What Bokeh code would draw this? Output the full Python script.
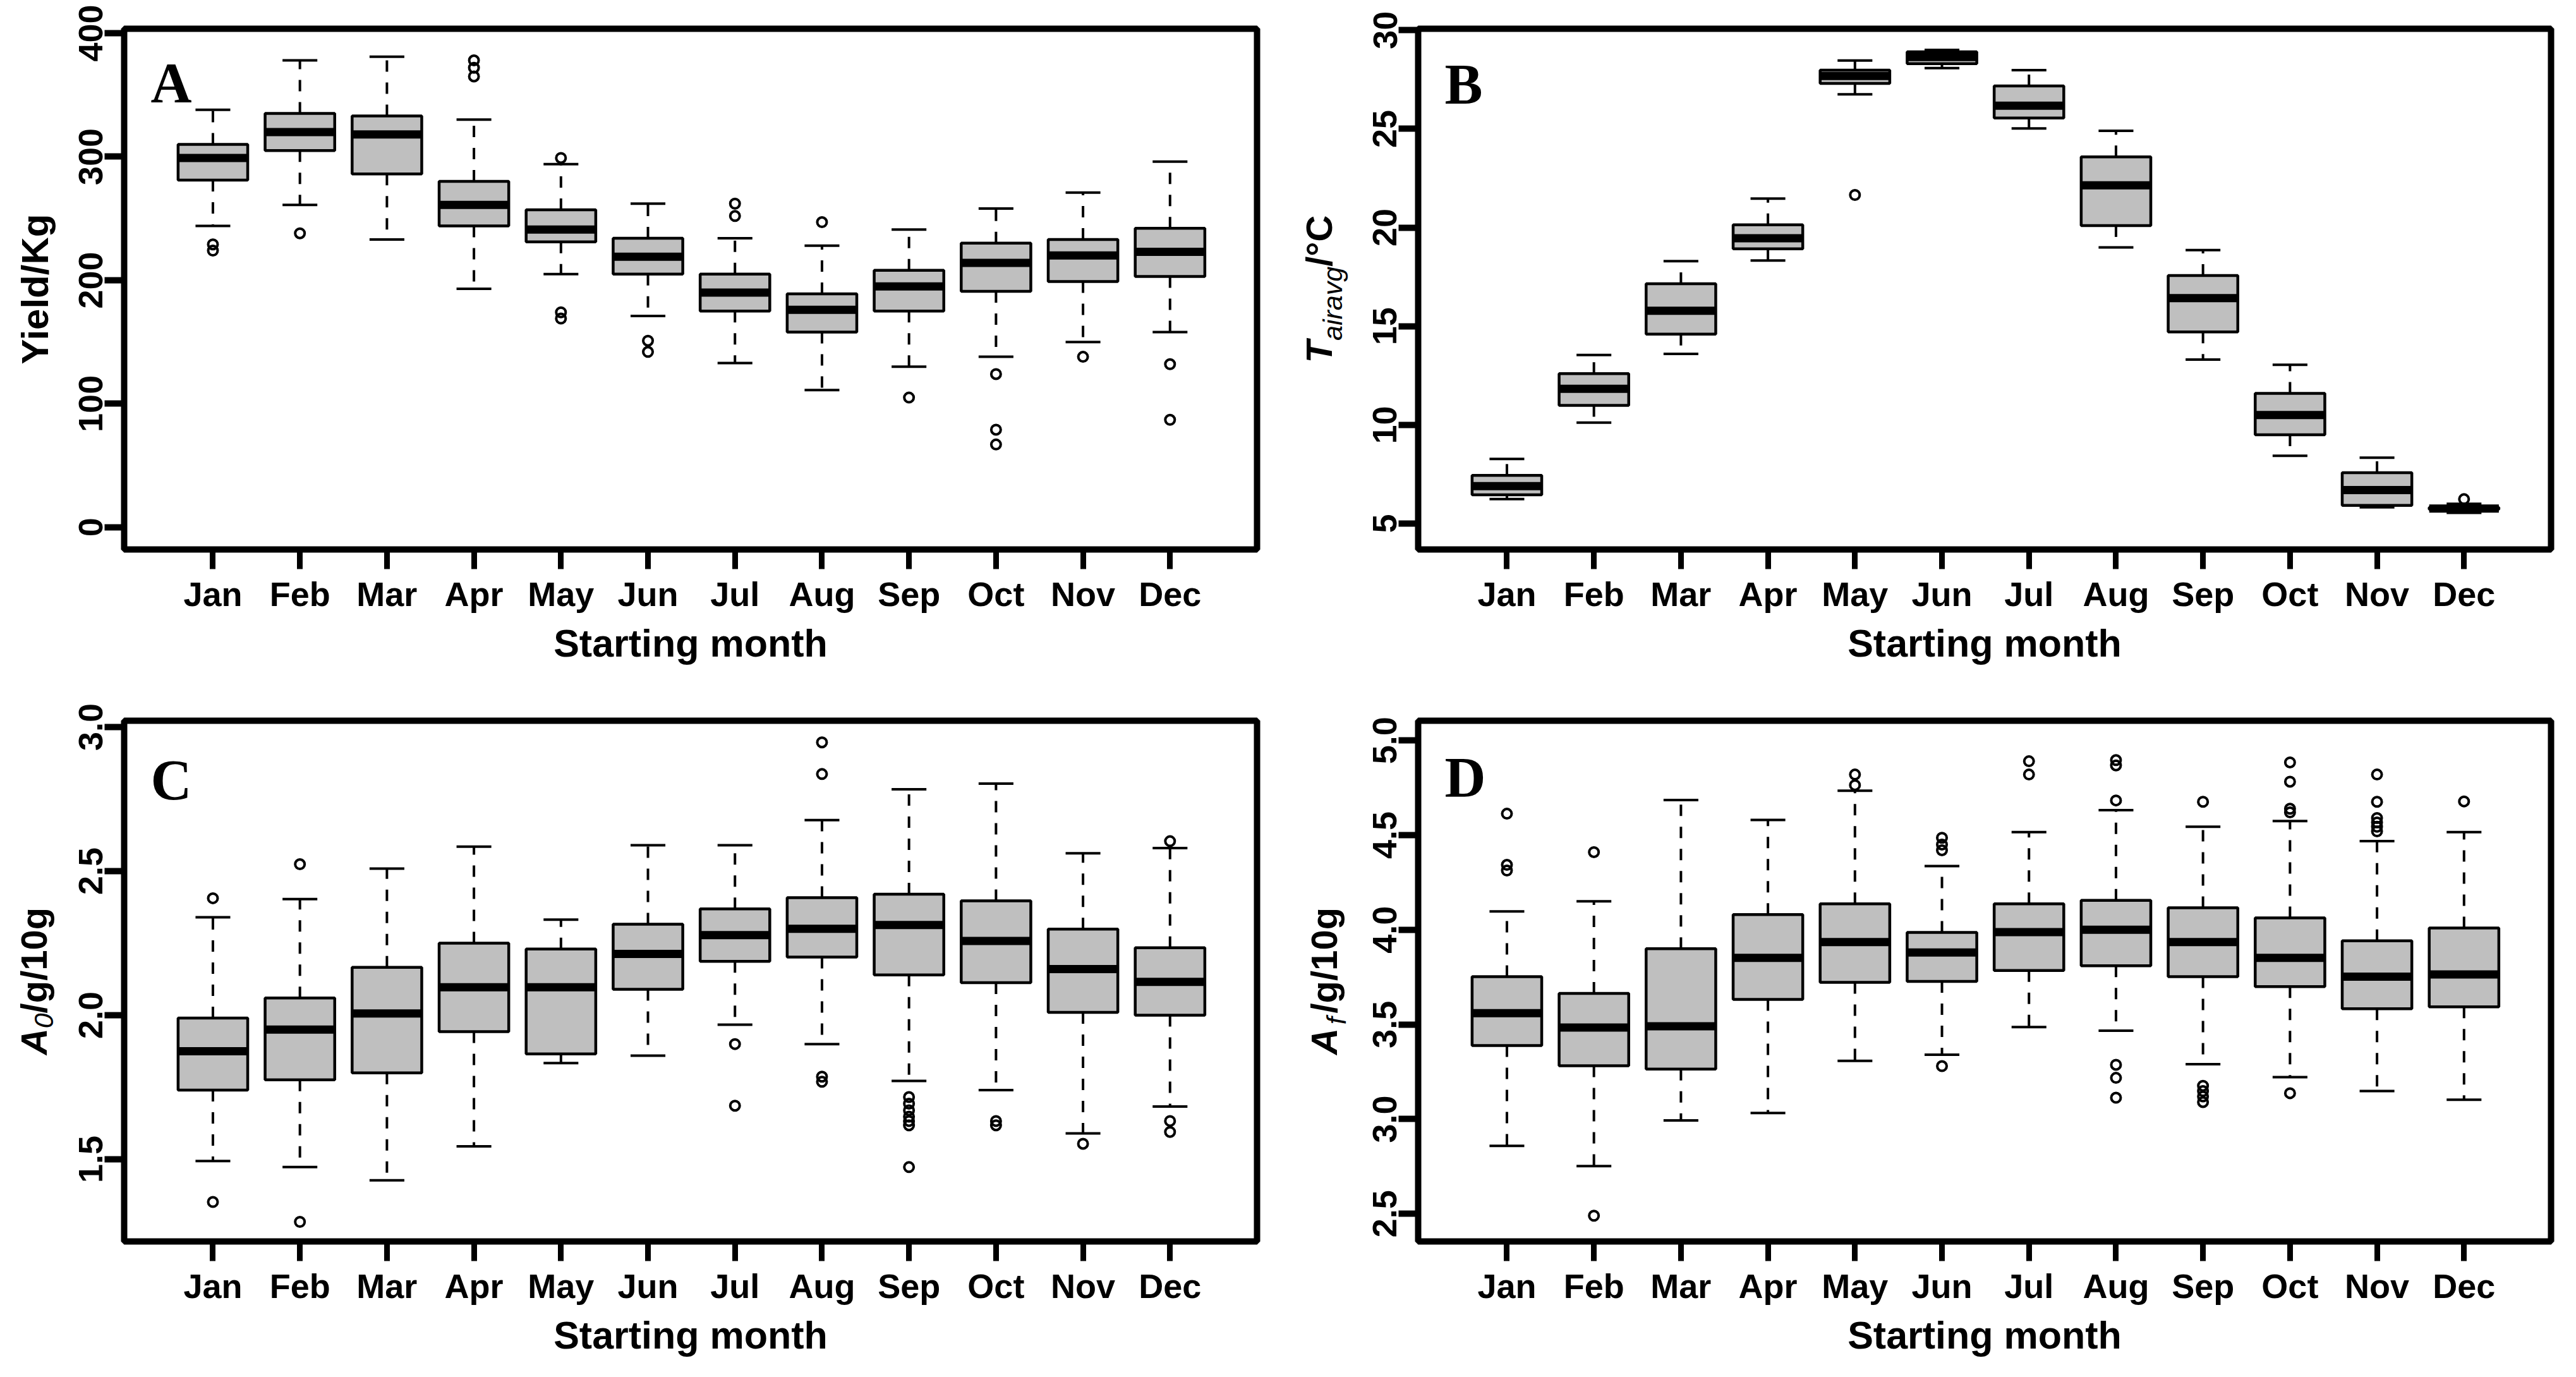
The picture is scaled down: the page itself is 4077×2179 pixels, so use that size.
import numpy as np
from math import pi
from bokeh.plotting import figure
from bokeh.models import Range1d, FixedTicker, Label, NumeralTickFormatter
from bokeh.layouts import column, row
from bokeh.embed import file_html
from bokeh.resources import INLINE

months = ["Jan", "Feb", "Mar", "Apr", "May", "Jun", "Jul", "Aug", "Sep", "Oct", "Nov", "Dec"]

# ---- Panel A: Yield/Kg ----
yield_lw  = [244, 261, 233, 193, 205, 171, 133, 111, 130, 138, 150, 158]
yield_q1  = [281, 305, 286, 244, 231, 205, 175, 158, 175, 191, 199, 203]
yield_med = [299, 320, 318, 261, 241, 219, 190, 176, 195, 214, 220, 223]
yield_q3  = [310, 335, 333, 280, 257, 234, 205, 189, 208, 230, 233, 242]
yield_uw  = [338, 378, 381, 330, 294, 262, 234, 228, 241, 258, 271, 296]
yield_out_month = ["Jan", "Jan", "Feb", "Apr", "Apr", "Apr", "May", "May", "May", "Jun", "Jun",
                   "Jul", "Jul", "Aug", "Sep", "Oct", "Oct", "Oct", "Nov", "Dec", "Dec"]
yield_out_val = [229, 224, 238, 378, 372, 365, 299, 174, 169, 151, 142,
                 262, 252, 247, 105, 124, 79, 67, 138, 132, 87]

# ---- Panel B: T_airavg / degC ----
temp_lw  = [6.24, 10.12, 13.60, 18.33, 26.75, 28.08, 25.02, 18.99, 13.31, 8.44, 5.83, 5.55]
temp_q1  = [6.46, 10.99, 14.60, 18.92, 27.30, 28.30, 25.55, 20.10, 14.71, 9.50, 5.92, 5.72]
temp_med = [6.90, 11.83, 15.78, 19.46, 27.68, 28.64, 26.17, 22.14, 16.42, 10.50, 6.70, 5.76]
temp_q3  = [7.44, 12.60, 17.15, 20.14, 27.97, 28.90, 27.17, 23.58, 17.57, 11.60, 7.58, 5.82]
temp_uw  = [8.28, 13.54, 18.30, 21.47, 28.46, 29.00, 27.97, 24.90, 18.86, 13.05, 8.34, 6.00]
temp_out_month = ["May", "Dec"]
temp_out_val = [21.65, 6.24]

# ---- Panel C: A0 / g/10g ----
a0_lw  = [1.494, 1.473, 1.427, 1.545, 1.834, 1.860, 1.967, 1.900, 1.772, 1.740, 1.590, 1.683]
a0_q1  = [1.740, 1.776, 1.800, 1.943, 1.866, 2.090, 2.187, 2.202, 2.140, 2.113, 2.010, 2.000]
a0_med = [1.875, 1.950, 2.006, 2.097, 2.097, 2.213, 2.278, 2.300, 2.313, 2.258, 2.160, 2.116]
a0_q3  = [1.990, 2.060, 2.166, 2.250, 2.230, 2.316, 2.369, 2.408, 2.420, 2.397, 2.299, 2.234]
a0_uw  = [2.340, 2.403, 2.509, 2.585, 2.332, 2.590, 2.590, 2.677, 2.784, 2.804, 2.562, 2.580]
a0_out_month = ["Jan", "Jan", "Feb", "Feb", "Jul", "Jul", "Aug", "Aug", "Aug", "Aug",
                "Sep", "Sep", "Sep", "Sep", "Sep", "Sep", "Sep", "Oct", "Oct", "Nov",
                "Dec", "Dec", "Dec"]
a0_out_val = [2.406, 1.352, 2.524, 1.283, 1.900, 1.686, 2.947, 2.837, 1.787, 1.769,
              1.716, 1.693, 1.670, 1.648, 1.633, 1.618, 1.473, 1.633, 1.618, 1.554,
              2.604, 1.633, 1.595]

# ---- Panel D: Af / g/10g ----
af_lw  = [2.859, 2.752, 2.993, 3.032, 3.308, 3.340, 3.486, 3.467, 3.290, 3.222, 3.148, 3.102]
af_q1  = [3.389, 3.282, 3.264, 3.632, 3.722, 3.727, 3.785, 3.810, 3.752, 3.700, 3.583, 3.593]
af_med = [3.560, 3.484, 3.490, 3.852, 3.935, 3.880, 3.988, 4.000, 3.935, 3.852, 3.752, 3.764]
af_q3  = [3.752, 3.664, 3.900, 4.080, 4.137, 3.986, 4.137, 4.155, 4.116, 4.063, 3.942, 4.009]
af_uw  = [4.097, 4.150, 4.685, 4.580, 4.734, 4.336, 4.516, 4.632, 4.544, 4.574, 4.468, 4.516]
af_out_month = ["Jan", "Jan", "Jan", "Feb", "Feb", "May", "May", "Jun", "Jun", "Jun", "Jun",
                "Jul", "Jul", "Aug", "Aug", "Aug", "Aug", "Aug", "Aug",
                "Sep", "Sep", "Sep", "Sep", "Sep", "Oct", "Oct", "Oct", "Oct", "Oct",
                "Nov", "Nov", "Nov", "Nov", "Nov", "Nov", "Dec"]
af_out_val = [4.613, 4.343, 4.313, 4.410, 2.490, 4.820, 4.764, 4.486, 4.450, 4.420, 3.280,
              4.890, 4.820, 4.896, 4.868, 4.683, 3.287, 3.218, 3.113,
              4.676, 3.176, 3.148, 3.120, 3.090, 4.884, 4.782, 4.639, 4.620, 3.137,
              4.820, 4.676, 4.590, 4.567, 4.544, 4.520, 4.678]

SANS = "Liberation Sans"
SERIF = "Liberation Serif"
FRAME_W = 1793
FRAME_H = 824
X_START, X_END = -0.02, 13.0
BOX_W = 0.8
CAP_W = 0.4
GREY = "#bfbfbf"
FIG_H = 1080


def make_panel(stats, out_month, out_val, yr, yticks, fmt, letter, letter_dy,
               W, H, bl, br, bt, bb):
    lw, q1, med, q3, uw = [np.array(s, dtype=float) for s in stats]
    x = np.arange(1, len(months) + 1, dtype=float)
    pos = {m: i + 1 for i, m in enumerate(months)}
    ox = [pos[m] for m in out_month]

    p = figure(width=W, height=H, x_range=Range1d(X_START, X_END), y_range=Range1d(*yr),
               output_backend="svg", toolbar_location=None, tools="",
               min_border_left=bl, min_border_right=br, min_border_top=bt, min_border_bottom=bb)
    p.background_fill_color = "white"
    p.border_fill_color = "white"
    p.grid.visible = False
    p.outline_line_color = "black"
    p.outline_line_width = 10

    p.segment(x0=x, y0=q3, x1=x, y1=uw, line_color="black", line_width=4, line_dash="18 17")
    p.segment(x0=x, y0=q1, x1=x, y1=lw, line_color="black", line_width=4, line_dash="18 17")
    p.segment(x0=x - CAP_W / 2, y0=uw, x1=x + CAP_W / 2, y1=uw, line_color="black", line_width=4)
    p.segment(x0=x - CAP_W / 2, y0=lw, x1=x + CAP_W / 2, y1=lw, line_color="black", line_width=4)
    p.vbar(x=x, width=BOX_W, bottom=q1, top=q3, fill_color=GREY, line_color="black", line_width=4.5)
    p.segment(x0=x - BOX_W / 2, y0=med, x1=x + BOX_W / 2, y1=med, line_color="black",
              line_width=13, line_cap="butt")
    p.scatter(x=ox, y=out_val, marker="circle", size=15, fill_color=None,
              line_color="black", line_width=4)

    xa = p.xaxis[0]
    xa.ticker = FixedTicker(ticks=list(x))
    xa.major_label_overrides = {int(v): m for v, m in zip(x, months)}
    ya = p.yaxis[0]
    ya.ticker = FixedTicker(ticks=yticks)
    if fmt:
        ya.formatter = NumeralTickFormatter(format=fmt)
    for ax in (xa, ya):
        ax.axis_line_color = None
        ax.minor_tick_line_color = None
        ax.major_tick_in = 0
        ax.major_tick_out = 31
        ax.major_tick_line_color = "black"
        ax.major_tick_line_cap = "butt"
        ax.major_label_text_font = SANS
        ax.major_label_text_font_style = "bold"
        ax.major_label_text_font_size = "54px"
        ax.major_label_text_color = "black"
    xa.major_tick_line_width = 9
    ya.major_tick_line_width = 10
    xa.major_label_standoff = 9
    ya.major_label_standoff = 3
    ya.major_label_orientation = "vertical"
    xa.axis_label = "Starting month"
    xa.axis_label_text_font = SANS
    xa.axis_label_text_font_style = "bold"
    xa.axis_label_text_font_size = "61px"
    xa.axis_label_text_color = "black"
    xa.axis_label_standoff = 11

    ux = (X_END - X_START) / FRAME_W
    uy = (yr[1] - yr[0]) / FRAME_H
    p.add_layout(Label(x=X_START + 42 * ux, y=yr[1] - letter_dy * uy, text=letter,
                       text_font=SERIF, text_font_style="bold", text_font_size="90px",
                       text_align="left", text_baseline="alphabetic", text_color="black"))
    return p


def make_title(parts, W, baseline_x, bt, bb):
    """Narrow strip (frame aligned with the panel frame) holding a rotated y-axis title
    built from styled pieces; data units are pixels of the strip frame."""
    t = figure(width=W, height=FIG_H, x_range=Range1d(0, W), y_range=Range1d(0, FRAME_H),
               output_backend="svg", toolbar_location=None, tools="",
               min_border_left=0, min_border_right=0, min_border_top=bt, min_border_bottom=bb,
               x_axis_location=None, y_axis_location=None)
    t.grid.visible = False
    t.outline_line_color = None
    t.background_fill_color = "white"
    t.border_fill_color = "white"
    total = sum(size * em for (_, size, _, em, _) in parts)
    ycur = FRAME_H / 2 - total / 2
    for txt, size, style, em, shift in parts:
        w = size * em
        t.add_layout(Label(x=baseline_x + shift - 0.33 * size, y=ycur + w / 2, text=txt,
                           angle=pi / 2, text_font=SANS, text_font_style=style,
                           text_font_size=f"{size}px", text_align="center",
                           text_baseline="middle", text_color="black"))
        ycur += w
    return t


TW_L, TW_R = 96, 100
pA = make_panel([yield_lw, yield_q1, yield_med, yield_q3, yield_uw], yield_out_month, yield_out_val,
                (-18.0, 403.6), [0, 100, 200, 300, 400], None, "A", 86,
                1944, FIG_H, 100, 51, 45, 211)
pB = make_panel([temp_lw, temp_q1, temp_med, temp_q3, temp_uw], temp_out_month, temp_out_val,
                (3.69, 30.07), [5, 10, 15, 20, 25, 30], None, "B", 88,
                1921, FIG_H, 104, 24, 45, 211)
pC = make_panel([a0_lw, a0_q1, a0_med, a0_q3, a0_uw], a0_out_month, a0_out_val,
                (1.215, 3.022), [1.5, 2.0, 2.5, 3.0], "0.0", "C", 94,
                1944, FIG_H, 100, 51, 60, 196)
pD = make_panel([af_lw, af_q1, af_med, af_q3, af_uw], af_out_month, af_out_val,
                (2.354, 5.104), [2.5, 3.0, 3.5, 4.0, 4.5, 5.0], "0.0", "D", 90,
                1921, FIG_H, 104, 24, 60, 196)

tA = make_title([("Yield/Kg", 60, "bold", 4.0, 0)], TW_L, 75, 45, 211)
tB = make_title([("T", 58, "bold italic", 0.611, 0), ("airavg", 43, "italic", 2.723, 17),
                 ("/°C", 58, "bold", 1.4, 0)], TW_R, 66, 45, 211)
tC = make_title([("A", 58, "bold italic", 0.722, 0), ("0", 43, "italic", 0.556, 11),
                 ("/g/10g", 58, "bold", 2.89, 0)], TW_L, 72, 60, 196)
tD = make_title([("A", 58, "bold italic", 0.722, 0), ("f", 43, "italic", 0.55, 15),
                 ("/g/10g", 58, "bold", 2.89, 0)], TW_R, 74, 60, 196)

layout = column(row(tA, pA, tB, pB), row(tC, pC, tD, pD))
open("out.html", "w").write(file_html(layout, INLINE))
